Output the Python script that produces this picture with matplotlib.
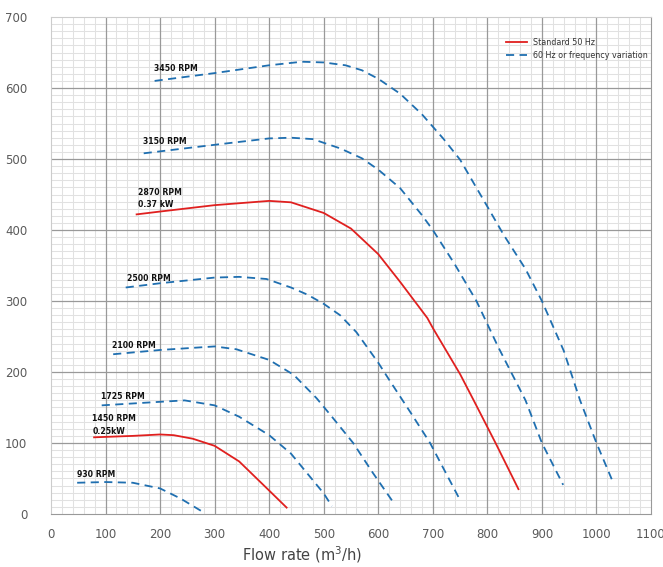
import matplotlib.pyplot as plt
from matplotlib.lines import Line2D

# ---- curve data (flow m3/h, pressure) ----
q_3450 = [190, 300, 400, 460, 500, 540, 570, 600, 640, 680, 720, 750, 800, 830, 870, 900, 940, 970, 1000, 1028]
p_3450 = [610, 621, 632, 637, 636, 632, 625, 613, 592, 563, 528, 499, 433, 393, 345, 300, 230, 160, 100, 49]

q_3150 = [170, 300, 400, 440, 480, 530, 570, 600, 640, 680, 700, 740, 780, 820, 870, 900, 939]
p_3150 = [508, 520, 529, 530, 528, 515, 501, 485, 459, 421, 400, 352, 300, 235, 160, 100, 41]

q_2870 = [157, 200, 300, 400, 440, 500, 550, 600, 640, 690, 700, 750, 775, 815, 857]
p_2870 = [422, 426, 435, 441, 439, 424, 402, 366, 327, 276, 262, 197, 160, 100, 35]

q_2500 = [137, 200, 300, 345, 395, 440, 470, 500, 530, 560, 600, 620, 660, 695, 747]
p_2500 = [319, 325, 333, 334, 331, 319, 309, 296, 280, 256, 213, 189, 142, 100, 24]

q_2100 = [114, 200, 300, 340, 400, 445, 487, 515, 554, 590, 627]
p_2100 = [225, 231, 236, 232, 217, 196, 163, 137, 100, 58, 17]

q_1725 = [93, 200, 245, 300, 345, 400, 440, 470, 500, 515]
p_1725 = [153, 158, 160, 153, 137, 111, 85, 57, 29, 11]

q_1450 = [79, 150, 200, 225, 260, 300, 345, 400, 432]
p_1450 = [108, 110, 112, 111, 106, 96, 74, 33, 9]

q_930 = [48, 100, 150, 200, 237, 276]
p_930 = [44, 45, 44, 36, 22, 4]

# label text and anchor (left, vertical centre) in data units
labels = ["3450 RPM", "3150 RPM", "2870 RPM", "0.37 kW", "2500 RPM",
          "2100 RPM", "1725 RPM", "1450 RPM", "0.25kW", "930 RPM"]
label_x = [188, 169, 160, 160, 139, 111, 92, 76, 76, 47]
label_y = [627, 524, 453, 436, 331, 238, 165, 134, 116, 55]

x_major = list(range(0, 1101, 100))
y_major = list(range(0, 701, 100))

RED = "#e0201f"
BLUE = "#1f6fb0"

fig = plt.figure(figsize=(6.63, 5.67), dpi=100)
ax = fig.add_axes([0.0769, 0.0935, 0.905, 0.8765])

# =========================
# grid
# =========================
ax.set_xlim(0, 1100)
ax.set_ylim(0, 700)
ax.set_xticks(x_major)
ax.set_yticks(y_major)
ax.set_xticks(range(0, 1101, 20), minor=True)
ax.set_yticks(range(0, 701, 10), minor=True)
ax.grid(True, which="minor", color="#e1e1e1", lw=0.75)
ax.set_axisbelow(True)
# major lines drawn separately, above the fine grid, so they stay unbroken
for v in x_major[1:-1]:
    ax.axvline(v, color="#999999", lw=0.9, zorder=0.8)
for v in y_major[1:-1]:
    ax.axhline(v, color="#999999", lw=0.9, zorder=0.8)
ax.tick_params(which="both", length=0)
ax.tick_params(axis="y", pad=17, labelsize=8.5, labelcolor="#5a5a5a")
ax.tick_params(axis="x", pad=10, labelsize=8.5, labelcolor="#5a5a5a")
for s in ["left", "top"]:
    ax.spines[s].set_color("#cccccc")
for s in ["right", "bottom"]:
    ax.spines[s].set_color("#999999")

# =========================
# curves
# =========================
dash = dict(color=BLUE, lw=1.3, dashes=(4.5, 3))
solid = dict(color=RED, lw=1.3)

for q, p in [(q_3450, p_3450), (q_3150, p_3150), (q_2500, p_2500),
             (q_2100, p_2100), (q_1725, p_1725), (q_930, p_930)]:
    ax.plot(q, p, **dash)
for q, p in [(q_2870, p_2870), (q_1450, p_1450)]:
    ax.plot(q, p, **solid)

for t, x, y in zip(labels, label_x, label_y):
    ax.text(x, y, t, fontsize=5.6, fontweight="bold", color="#111111",
            ha="left", va="center")

handles = [Line2D([], [], **solid), Line2D([], [], **dash)]
ax.legend(handles, ["Standard 50 Hz", "60 Hz or frequency variation"],
          loc="upper right", bbox_to_anchor=(1.007, 0.972), frameon=False,
          fontsize=5.8, handlelength=2.6, labelspacing=0.45,
          labelcolor="#333333")

fig.text(302 / 663, 1 - 555 / 567, "Flow rate (m$^3$/h)", ha="center",
         va="center", fontsize=10.5, color="#444444")

fig.savefig("out.png", dpi=100)
